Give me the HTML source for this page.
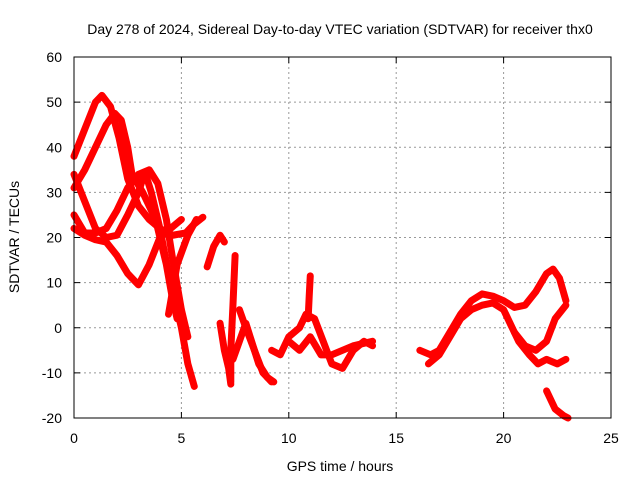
<!DOCTYPE html>
<html><head><meta charset="utf-8"><style>
body{margin:0;background:#fff;font-family:"Liberation Sans",sans-serif}
svg text{font-family:"Liberation Sans",sans-serif;font-size:14px;fill:#000}
</style></head><body>
<svg width="640" height="480">
<text x="340" y="34" text-anchor="middle">Day 278 of 2024, Sidereal Day-to-day VTEC variation (SDTVAR) for receiver thx0</text>
<g id="grid"></g>
<g id="ticks"></g>
<g id="series"></g>
<rect x="74" y="57" width="537" height="361" fill="none" stroke="#000"/>
<text x="340" y="471" text-anchor="middle">GPS time / hours</text>
<text transform="translate(19,237) rotate(-90)" text-anchor="middle">SDTVAR / TECUs</text>
</svg>
<script>
const xTicks=[0,5,10,15,20,25];
const yTicks=[-20,-10,0,10,20,30,40,50,60];
const track1=[[0,38],[0.5,44],[1,50],[1.3,51.5],[1.7,49],[2.1,42],[2.5,33],[3,27],[3.5,24],[4,22],[4.6,20.5],[5.2,21],[5.6,23],[6,24.5]];
const track2=[[0,31],[0.5,35],[1,40],[1.5,45],[1.9,47.5],[2.2,46],[2.5,40],[2.7,34],[3.2,30],[3.8,24],[4.3,14],[4.6,6],[4.8,2]];
const track3=[[0,22],[0.5,20.5],[1,19.5],[1.5,19],[2,16],[2.5,12],[3,9.5],[3.5,14],[4,20],[4.5,22],[5,24]];
const track4=[[0,34],[0.5,28],[1,22],[1.5,20],[2,20.5],[2.5,25],[3,30],[3.3,34.5],[3.6,30],[4,22],[4.4,12],[4.8,4],[5,0],[5.3,-8],[5.6,-13]];
const track5=[[0,25],[0.5,21],[1,21],[1.5,22],[2,26],[2.5,31],[3,34],[3.5,35],[3.9,32],[4.3,24],[4.6,15],[5,4],[5.3,-2]];
const track6=[[4.4,3],[4.8,14],[5.3,20.5],[5.7,24]];
const track7=[[6.2,13.5],[6.5,18],[6.8,20.5],[7,19]];
const track8=[[6.8,1],[7,-5],[7.2,-9],[7.3,-12.5]];
const track9=[[7.5,16],[7.4,5],[7.3,-5],[7.3,-12]];
const track10=[[7.4,-7],[7.7,-3],[8,1],[8.2,-2],[8.6,-8],[9,-11],[9.3,-12]];
const track11=[[7.7,4],[8,0],[8.4,-5],[8.8,-10],[9.2,-12]];
const track12=[[9.2,-5],[9.6,-6],[10,-2],[10.5,0],[10.8,3],[11.2,2],[11.6,-3],[12,-8],[12.5,-9],[13,-5],[13.5,-3],[13.9,-4]];
const track13=[[10,-3],[10.5,-5],[11,-2],[11.5,-6],[12,-6],[12.5,-5],[13,-4],[13.9,-3]];
const track14=[[10.9,2],[10.95,7],[11,11.5]];
const track15=[[16.1,-5],[16.6,-6],[17,-5],[17.5,-1],[18,3],[18.5,6],[19,7.5],[19.5,7],[20,6],[20.5,4.5],[21,5],[21.5,8],[22,12],[22.3,13],[22.6,11],[22.9,6]];
const track16=[[16.5,-8],[17,-6],[17.5,-2],[18,2],[18.5,4],[19,5],[19.5,5.5],[20,4],[20.4,0],[20.7,-3],[21.2,-6],[21.6,-8],[22,-7],[22.5,-8],[22.9,-7]];
const track17=[[20.5,-1],[21,-4],[21.5,-5],[22,-3],[22.4,2],[22.9,5]];
const track18=[[22,-14],[22.4,-18],[22.8,-19.5],[23,-20]];
const tracks=[track1,track2,track3,track4,track5,track6,track7,track8,track9,track10,track11,track12,track13,track14,track15,track16,track17,track18];
const X0=74,X1=611,Y0=418,Y1=57;
const sx=v=>X0+(v-0)/25*(X1-X0);
const sy=v=>Y0-(v+20)/80*(Y0-Y1);
const NS='http://www.w3.org/2000/svg';
const grid=document.getElementById('grid'),ticks=document.getElementById('ticks'),ser=document.getElementById('series');
function mk(tag,attrs,parent){const e=document.createElementNS(NS,tag);for(const k in attrs)e.setAttribute(k,attrs[k]);parent.appendChild(e);return e;}
xTicks.forEach(t=>{
  const x=sx(t);
  if(t>0&&t<25){const g=mk('line',{x1:x,x2:x,y1:Y1,y2:Y0,stroke:'#999','stroke-dasharray':'2,3'},grid);
  
  }
  mk('line',{x1:x,x2:x,y1:Y0,y2:Y0-6,stroke:'#000'},ticks);
  mk('line',{x1:x,x2:x,y1:Y1,y2:Y1+6,stroke:'#000'},ticks);
  const l=mk('text',{x:x,y:443,'text-anchor':'middle'},ticks);l.textContent=t;
  
  
});
yTicks.forEach(t=>{
  const y=sy(t);
  if(t>-20&&t<60){const g=mk('line',{x1:X0,x2:X1,y1:y,y2:y,stroke:'#999','stroke-dasharray':'2,3'},grid);
  
  }
  mk('line',{x1:X0,x2:X0+6,y1:y,y2:y,stroke:'#000'},ticks);
  mk('line',{x1:X1,x2:X1-6,y1:y,y2:y,stroke:'#000'},ticks);
  const l=mk('text',{x:62,y:y+5,'text-anchor':'end'},ticks);l.textContent=t;
  
  
});
tracks.forEach(tr=>{
  const p=mk('polyline',{points:tr.map(d=>sx(d[0])+','+sy(d[1])).join(' '),fill:'none',stroke:'#f00','stroke-width':7,'stroke-linejoin':'round','stroke-linecap':'round'},ser);
  
  
});
</script>
</body></html>
